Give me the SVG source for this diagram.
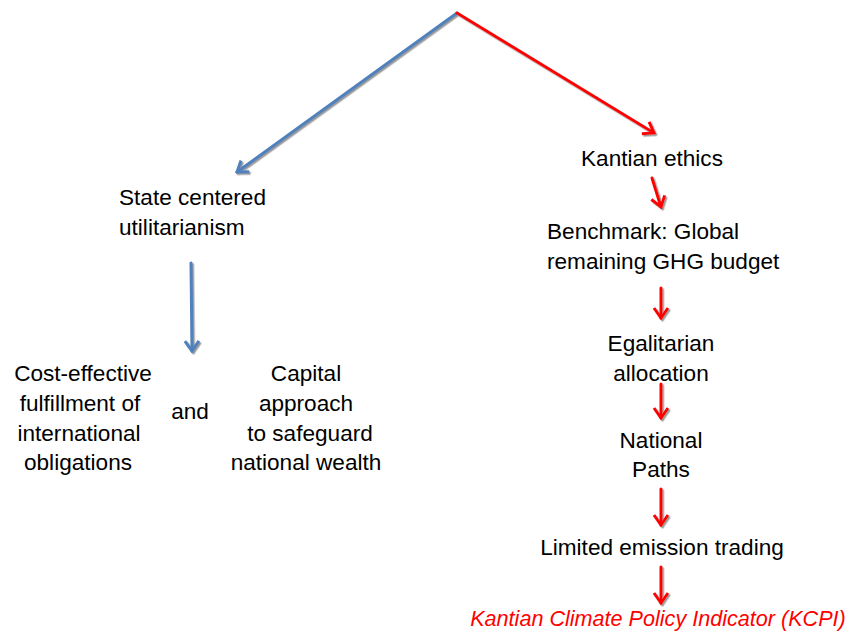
<svg xmlns="http://www.w3.org/2000/svg" width="854" height="633" viewBox="0 0 854 633">
<style>
text{font-family:"Liberation Sans",Arial,sans-serif;font-size:22.6px;fill:#000}
.c{text-anchor:middle}
.kcpi{fill:#FF0000;font-style:italic;font-size:21.6px}
.blue{stroke:#4F81BD;stroke-width:3;fill:none;stroke-linecap:round}
.red{stroke:#FF0000;stroke-width:3;fill:none;stroke-linecap:round}
</style>
<defs>
<filter id="sh" x="-20%" y="-20%" width="140%" height="140%">
<feDropShadow dx="1.5" dy="1.5" stdDeviation="0.6" flood-color="#808080" flood-opacity="0.8"/>
</filter>
<marker id="hb" markerUnits="userSpaceOnUse" viewBox="-12 -9 14 18" markerWidth="14" markerHeight="18" refX="0" refY="0" orient="auto">
<path d="M-10,-7 L0,0 L-10,7" fill="none" stroke="#4F81BD" stroke-width="3" stroke-linejoin="miter"/>
</marker>
<marker id="hr" markerUnits="userSpaceOnUse" viewBox="-12 -9 14 18" markerWidth="14" markerHeight="18" refX="0" refY="0" orient="auto">
<path d="M-10,-7 L0,0 L-10,7" fill="none" stroke="#FF0000" stroke-width="3" stroke-linejoin="miter"/>
</marker>
</defs>
<rect width="854" height="633" fill="#fff"/>
<g id="connectors" filter="url(#sh)">
<line class="blue" x1="457" y1="13" x2="237" y2="172" marker-end="url(#hb)"/>
<line class="red" x1="457" y1="13" x2="654" y2="133" marker-end="url(#hr)"/>
<line class="blue" x1="191" y1="263" x2="192" y2="351" marker-end="url(#hb)"/>
<line class="red" x1="652" y1="178" x2="661" y2="207" marker-end="url(#hr)"/>
<line class="red" x1="661" y1="288" x2="661" y2="318" marker-end="url(#hr)"/>
<line class="red" x1="661" y1="384" x2="661" y2="418" marker-end="url(#hr)"/>
<line class="red" x1="661" y1="489" x2="661" y2="525" marker-end="url(#hr)"/>
<line class="red" x1="661" y1="567" x2="661" y2="603" marker-end="url(#hr)"/>
</g>
<g id="state">
<text x="119" y="205">State centered</text>
<text x="119" y="235">utilitarianism</text>
</g>
<g id="cost">
<text class="c" x="83" y="381">Cost-effective</text>
<text class="c" x="80" y="411">fulfillment of</text>
<text class="c" x="79" y="441">international</text>
<text class="c" x="78" y="470">obligations</text>
</g>
<g id="and">
<text class="c" x="190" y="419">and</text>
</g>
<g id="capital">
<text class="c" x="306" y="381">Capital</text>
<text class="c" x="306" y="411">approach</text>
<text class="c" x="310" y="441">to safeguard</text>
<text class="c" x="306" y="470">national wealth</text>
</g>
<g id="kantian">
<text class="c" x="652" y="166">Kantian ethics</text>
</g>
<g id="benchmark">
<text x="547" y="239">Benchmark: Global</text>
<text x="547" y="269">remaining GHG budget</text>
</g>
<g id="egalitarian">
<text class="c" x="661" y="351">Egalitarian</text>
<text class="c" x="661" y="381">allocation</text>
</g>
<g id="national">
<text class="c" x="661" y="448">National</text>
<text class="c" x="661" y="477">Paths</text>
</g>
<g id="trading">
<text class="c" x="662" y="555">Limited emission trading</text>
</g>
<g id="kcpi">
<text class="c kcpi" x="658" y="626">Kantian Climate Policy Indicator (KCPI)</text>
</g>
</svg>
